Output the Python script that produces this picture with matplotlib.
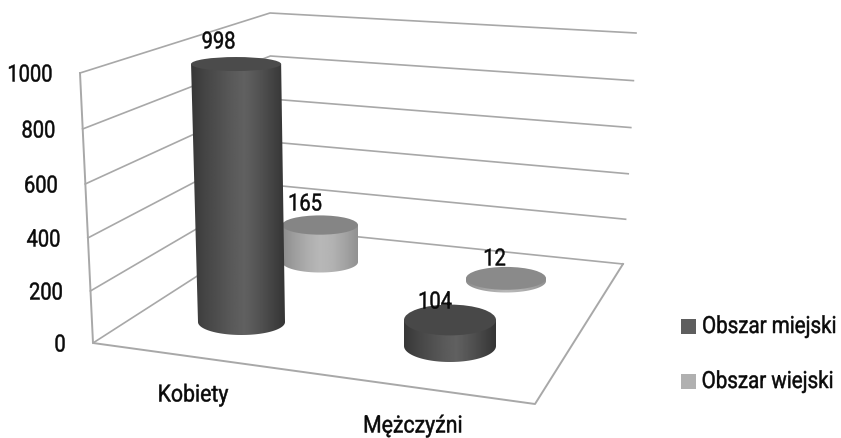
"""Pseudo-3D cylinder chart: Obszar miejski / wiejski for Kobiety and Mezczyzni."""

import matplotlib

matplotlib.use("Agg")
import matplotlib.pyplot as plt
import numpy as np
from matplotlib.patches import Ellipse, PathPatch, Rectangle
from matplotlib.path import Path
from matplotlib.patheffects import AbstractPathEffect
from matplotlib.transforms import Affine2D

plt.rcParams["font.family"] = ["Roboto", "DejaVu Sans"]

categories = ["Kobiety", "Mężczyźni"]
series_names = ["Obszar miejski", "Obszar wiejski"]
miejski = [998, 104]
wiejski = [165, 12]
y_ticks = [0, 200, 400, 600, 800, 1000]

W, H = 841, 439
GRID = "#a8a8a8"
FS = 17
TEXT = "#0a0a0a"
FLATTEN = 0.0233  # ellipses get flatter the higher they sit


class Squeeze(AbstractPathEffect):
    """Narrow and slightly embolden the glyphs, the reference uses a condensed face."""

    def __init__(self, sx, anchor):
        self.sx = sx
        self.anchor = anchor

    def draw_path(self, renderer, gc, tpath, affine, rgbFace=None):
        ext = tpath.get_extents()
        x0 = ext.x0 + self.anchor * ext.width
        squeeze = Affine2D().translate(-x0, 0).scale(self.sx, 1).translate(x0, 0)
        gc0 = renderer.new_gc()
        gc0.copy_properties(gc)
        gc0.set_foreground(rgbFace)
        gc0.set_linewidth(0.35)
        renderer.draw_path(gc0, tpath, squeeze + affine, rgbFace)
        gc0.restore()


def label(ax, x, y, s, ha="center", sx=0.85, z=6):
    anchor = {"left": 0, "center": 0.5, "right": 1}[ha]
    ax.text(x, y, s, ha=ha, va="center", fontsize=FS, color=TEXT, zorder=z,
            path_effects=[Squeeze(sx, anchor)])


def front_xy(v):
    t = v / 1000
    return 93 - 13 * t, 344 - (257.5 * t + 12.5 * t * t)


def back_xy(v):
    t = v / 1000
    return 272 - 2 * t, 229 - 215 * t


def right_xy(v):
    t = v / 1000
    return 623 + 13 * t, 265 - (222 * t + 9 * t * t)


def cylinder(ax, value, base, radius, scale, taper, top_color, shades, z):
    """Cylinder rising value*scale pixels from its base ellipse centre."""
    bx, by = base
    ra, rb = radius
    h = value * scale
    tx, ty = bx - taper[0] * h, by - h
    ta = ra + taper[1] * h
    tb = rb - FLATTEN * h

    arc = np.linspace(np.pi, 0, 80)
    verts = [(tx - ta, ty)]
    verts += [(bx + ra * np.cos(a), by + rb * np.sin(a)) for a in arc]
    verts += [(tx + ta, ty), (tx - ta, ty)]
    side = Path(verts)

    left, right = min(tx - ta, bx - ra), max(tx + ta, bx + ra)
    grad = np.interp(np.linspace(0, 1, 128), np.linspace(0, 1, len(shades)), shades)
    im = ax.imshow(grad[np.newaxis, :], extent=[left, right, by + rb + 1, ty - 1], cmap="gray",
                   vmin=0, vmax=1, aspect="auto", interpolation="bilinear", zorder=z)
    im.set_clip_path(PathPatch(side, transform=ax.transData))
    ax.add_patch(Ellipse((tx, ty), 2 * ta, 2 * tb, fc=top_color, ec="none", zorder=z + 0.1))


fig = plt.figure(figsize=(W / 100, H / 100), dpi=100)
ax = fig.add_axes([0, 0, 1, 1])
ax.axis("off")

# walls and gridlines
for v in y_ticks:
    f, b, r = front_xy(v), back_xy(v), right_xy(v)
    ax.plot([f[0], b[0], r[0]], [f[1], b[1], r[1]], color=GRID, lw=1.2, zorder=1)
    label(ax, f[0] - 27, f[1] + 2, str(v), ha="right")
f0, f1 = front_xy(0), front_xy(1000)
ax.plot([f1[0], f0[0], 535, right_xy(0)[0]], [f1[1], f0[1], 405, right_xy(0)[1]],
        color=GRID, lw=1.4, zorder=1)

dark_sides = [0.22, 0.27, 0.31, 0.35, 0.38, 0.33, 0.27, 0.21]
light_sides = [0.55, 0.62, 0.68, 0.72, 0.70, 0.64, 0.57]

# back row (wiejski)
cylinder(ax, wiejski[0], (320, 263), (38, 10.5), 0.224, (0, 0), "#858585", light_sides, 2)
cylinder(ax, wiejski[1], (506, 282), (40, 11.5), 0.22, (0, 0), "#8a8a8a", light_sides, 2)
# front row (miejski)
cylinder(ax, miejski[0], (241.5, 323), (43.5, 13), 0.2585, (0.021, 0.006), "#4b4b4b", dark_sides, 3)
cylinder(ax, miejski[1], (450, 347), (46, 16), 0.25, (0, 0), "#484848", dark_sides, 3)

# value labels
for v, (x, y) in zip(miejski + wiejski, [(218.5, 43), (435, 303), (305, 205), (494.5, 260)]):
    label(ax, x, y, str(v))

# category labels
label(ax, 193, 396, categories[0], sx=0.9)
label(ax, 413, 427, categories[1], sx=0.9)

# legend
for name, col, y, end in zip(series_names, ["#5e5e5e", "#b0b0b0"], [327.5, 382.5], [837, 834]):
    ax.add_patch(Rectangle((681, y - 7.5), 15, 15, fc=col, ec="none"))
    label(ax, end, y, name, ha="right", sx=0.87)

ax.set_xlim(0, W)
ax.set_ylim(H, 0)
fig.savefig("out.png", dpi=100)
